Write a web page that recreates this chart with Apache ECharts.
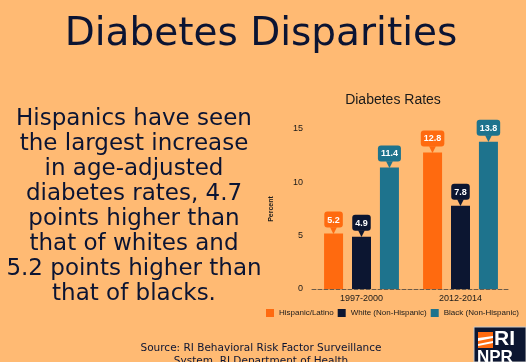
<!DOCTYPE html>
<html>
<head>
<meta charset="utf-8">
<script src="https://cdn.jsdelivr.net/npm/echarts@6/dist/echarts.min.js"></script>
<style>
html,body{margin:0;padding:0;background:#FFBA73;}
#c{width:526px;height:362px;}
</style>
</head>
<body>
<div id="c"></div>
<script>
const categories = ['1997-2000', '2012-2014'];
const seriesNames = ['Hispanic/Latino', 'White (Non-Hispanic)', 'Black (Non-Hispanic)'];
const hispanic = [5.2, 12.8];
const white = [4.9, 7.8];
const black = [11.4, 13.8];
const yTicks = [0, 5, 10, 15];
const colors = ['#FF6A0F', '#0C1631', '#1E738D'];

const bodyLines = [
  'Hispanics have seen',
  'the largest increase',
  'in age-adjusted',
  'diabetes rates, 4.7',
  'points higher than',
  'that of whites and',
  '5.2 points higher than',
  'that of blacks.'
];
const sourceLines = ['Source: RI Behavioral Risk Factor Surveillance', 'System, RI Department of Health'];

const chart = echarts.init(document.getElementById('c'));

function makeSeries(name, data, color) {
  return {
    name: name,
    type: 'bar',
    data: data,
    barWidth: 19,
    barGap: '47%',
    itemStyle: { color: color },
    label: {
      show: true,
      position: 'top',
      distance: 0,
      formatter: function (p) { return '{v|' + p.value.toFixed(1) + '}\n{p|▼}'; },
      rich: {
        v: {
          backgroundColor: color,
          borderRadius: 3,
          padding: [4, 3, 3, 3],
          color: '#fff',
          fontWeight: 'bold',
          fontSize: 9,
          fontFamily: 'Liberation Sans',
          align: 'center'
        },
        p: {
          color: color,
          fontSize: 9,
          lineHeight: 6,
          align: 'center',
          fontFamily: 'DejaVu Sans'
        }
      }
    }
  };
}

const option = {
  backgroundColor: '#FFBA73',
  animation: false,
  title: {
    text: 'Diabetes Rates',
    left: 388,
    top: 88,
    textAlign: 'center',
    textStyle: { fontFamily: 'Liberation Sans', fontSize: 14, fontWeight: 'normal', color: '#1a1a1a' }
  },
  legend: {
    left: 266,
    top: 309,
    padding: 0,
    width: 260,
    itemWidth: 8,
    itemHeight: 8,
    itemGap: 4,
    icon: 'rect',
    textStyle: { fontFamily: 'Liberation Sans', fontSize: 8, color: '#1a1a1a' },
    data: seriesNames
  },
  grid: { left: 312, top: 129, width: 198, height: 160 },
  xAxis: {
    type: 'category',
    data: categories,
    axisLine: { show: true, lineStyle: { color: '#6b5a48', type: 'dashed', width: 1 } },
    axisTick: { show: false },
    axisLabel: { fontFamily: 'Liberation Sans', fontSize: 9, color: '#1a1a1a', margin: 5 }
  },
  yAxis: {
    type: 'value',
    min: 0,
    max: 15,
    interval: 5,
    name: 'Percent',
    nameLocation: 'middle',
    nameGap: 37,
    nameTextStyle: { fontFamily: 'Liberation Sans', fontSize: 7, fontWeight: 'bold', color: '#1a1a1a' },
    axisLine: { show: false },
    axisTick: { show: false },
    splitLine: { show: false },
    axisLabel: {
      fontFamily: 'Liberation Sans', fontSize: 9, color: '#1a1a1a', margin: 9,
      formatter: function (v) { return yTicks.indexOf(v) >= 0 ? String(v) : ''; }
    }
  },
  series: [
    makeSeries(seriesNames[0], hispanic, colors[0]),
    makeSeries(seriesNames[1], white, colors[1]),
    makeSeries(seriesNames[2], black, colors[2])
  ],
  graphic: [
    {
      type: 'text', x: 261, y: 15,
      style: { text: 'Diabetes Disparities', font: '39px "DejaVu Sans"', fill: '#0B1433', textAlign: 'center', textVerticalAlign: 'top' }
    },
    {
      type: 'text', x: 134, y: 107,
      style: { text: bodyLines.join('\n'), font: '23px "DejaVu Sans"', lineHeight: 25, fill: '#0B1433', textAlign: 'center', textVerticalAlign: 'top' }
    },
    {
      type: 'text', x: 261, y: 342,
      style: { text: sourceLines.join('\n'), font: '10.5px "DejaVu Sans"', lineHeight: 13, fill: '#0B1433', textAlign: 'center', textVerticalAlign: 'top' }
    },
    {
      type: 'group', x: 474, y: 327,
      children: [
        { type: 'rect', shape: { x: 0, y: 0, width: 52, height: 35 }, style: { fill: '#0C1631', stroke: '#c8c8c8', lineWidth: 1 } },
        { type: 'rect', shape: { x: 4, y: 5, width: 15, height: 16 }, style: { fill: '#FF6A0F' } },
        { type: 'polygon', shape: { points: [[4, 11], [19, 9], [19, 11], [4, 14]] }, style: { fill: '#ffffff' } },
        { type: 'polygon', shape: { points: [[4, 17], [19, 14], [19, 16], [4, 19]] }, style: { fill: '#ffffff' } },
        { type: 'text', x: 20, y: 2, style: { text: 'RI', font: 'bold 21px "Liberation Sans"', fill: '#ffffff' } },
        { type: 'text', x: 3, y: 22, style: { text: 'NPR', font: 'bold 17px "Liberation Sans"', fill: '#ffffff' } }
      ]
    }
  ]
};
chart.setOption(option);
</script>
</body>
</html>
